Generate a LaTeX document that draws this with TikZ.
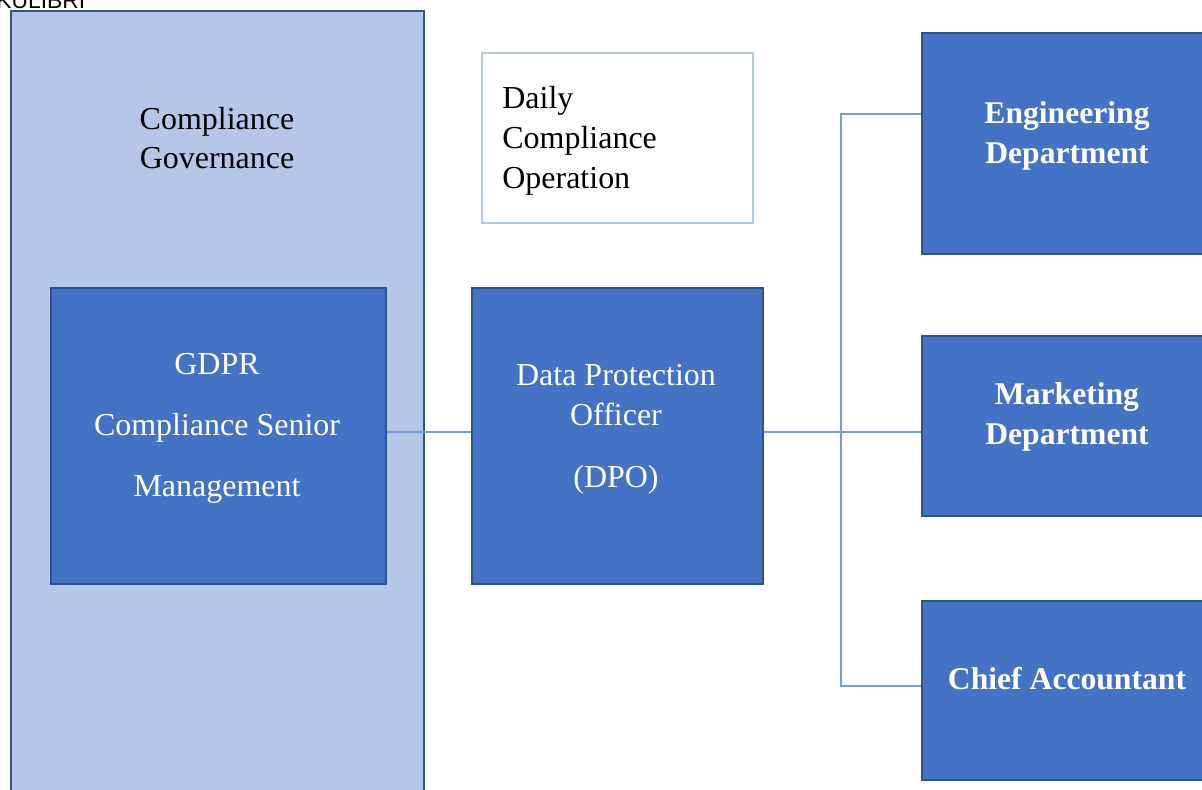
\documentclass[tikz,border=0pt]{standalone}
\usepackage{fontspec}
\setmainfont{Liberation Serif}
\newfontfamily\logofont{Liberation Sans}
\definecolor{OfficeBlue}{RGB}{68,114,196}
\definecolor{OfficeEdge}{RGB}{47,82,143}
\definecolor{PaleBlue}{RGB}{180,199,231}
\definecolor{LinkBlue}{RGB}{120,155,215}
\usepackage{tikz}

\begin{document}
\begin{tikzpicture}[
    x=0.02cm, y=-0.02cm,
    every node/.style={
        inner sep=0pt,
        font=\fontsize{18.2}{22.7}\selectfont
    },
    panel/.style={draw=OfficeEdge, fill=PaleBlue, line width=1.1pt, anchor=north west},
    unit/.style={draw=OfficeEdge, fill=OfficeBlue, line width=1.1pt, anchor=north west},
    note/.style={draw=PaleBlue, fill=white, line width=1.1pt, anchor=north west},
    whitetext/.style={text=white, align=center},
    boldtext/.style={text=white, align=center, font=\fontsize{18}{22.7}\selectfont\bfseries},
    link/.style={draw=LinkBlue, line width=0.8pt}
]
\useasboundingbox (0,0) rectangle (1202,789);
\clip (0,0) rectangle (1202,789);

% Boxes
\node[panel, minimum width=8.26cm, minimum height=16.6cm] (govern) at (10,10) {};
\node[unit, minimum width=6.7cm, minimum height=5.92cm] (gdpr) at (50,287) {};
\node[unit, minimum width=5.82cm, minimum height=5.92cm] (dpo) at (471,287) {};
\node[note, minimum width=5.42cm, minimum height=3.4cm] (daily) at (481,52) {};
\node[unit, minimum width=6.4cm, minimum height=4.42cm] (eng) at (921,32) {};
\node[unit, minimum width=6.4cm, minimum height=3.6cm] (mkt) at (921,335) {};
\node[unit, minimum width=6.4cm, minimum height=3.58cm] (chief) at (921,600) {};

% Texts
\node[anchor=base west, font=\logofont\fontsize{13}{15}\selectfont] (logo) at (-4,8) {KULIBRI};
\node[align=center] (governtext) at (217,138) {Compliance\\Governance};
\node[whitetext] (gdprtext) at (217,428) {GDPR\\[12pt]Compliance Senior\\[12pt]Management};
\node[whitetext] (dpotext) at (616,429) {Data Protection\\Officer\\[12.5pt](DPO)};
\node[align=left, anchor=west] (dailytext) at (502,141) {Daily\\Compliance\\Operation};
\node[boldtext] (engtext) at (1067,136) {Engineering\\Department};
\node[boldtext] (mkttext) at (1067,417) {Marketing\\Department};
\node[boldtext] (chieftext) at (1067,679) {Chief Accountant};

% Connectors
\draw[link] ([yshift=0.08cm]gdpr.east) -- ([yshift=0.08cm]dpo.west);
\draw[link] ([yshift=0.08cm]dpo.east) -- ([yshift=0.08cm]mkt.west |- dpo.east);
\draw[link] ([yshift=0.59cm]eng.west) -- ++(-80,0) |- ([yshift=0.09cm]chief.west);
\end{tikzpicture}
\end{document}
